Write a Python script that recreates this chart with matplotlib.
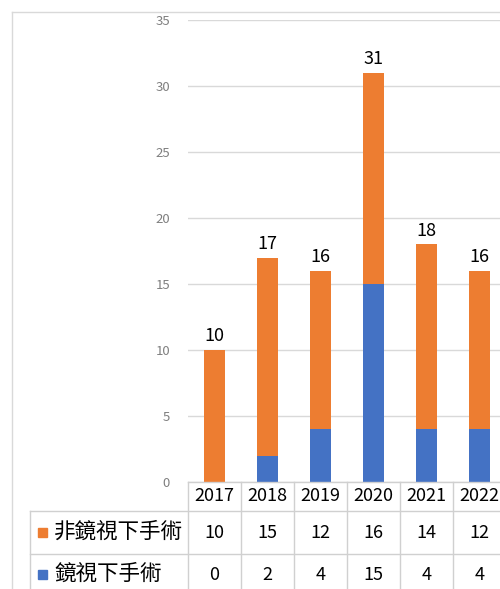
import matplotlib
matplotlib.use('Agg')
import matplotlib.pyplot as plt
from matplotlib.lines import Line2D
from matplotlib.patches import Rectangle
import matplotlib.transforms as mtransforms

plt.rcParams['font.family'] = ['Noto Sans CJK TC', 'DejaVu Sans']

# データ
years = ['2017', '2018', '2019', '2020', '2021', '2022']
non_scope = [10, 15, 12, 16, 14, 12]   # 非鏡視下手術
scope = [0, 2, 4, 15, 4, 4]            # 鏡視下手術
series_names = ['非鏡視下手術', '鏡視下手術']
totals = [a + b for a, b in zip(non_scope, scope)]

c_orange = '#ED7D31'
c_blue = '#4472C4'
c_grid = '#d9d9d9'
c_table = '#d0d0d0'

W, H = 500, 589
fig = plt.figure(figsize=(W / 100, H / 100), dpi=100)

def fx(x):
    return x / W

def fy(y):
    return 1 - y / H

col_w = 53
ax_left = 188
n_vis = (W - ax_left) / col_w
ax = fig.add_axes([fx(ax_left), fy(482), 1 - fx(ax_left), fy(20) - fy(482)])

x = list(range(len(years)))
ax.bar(x, scope, width=0.4, color=c_blue, zorder=3)
ax.bar(x, non_scope, width=0.4, bottom=scope, color=c_orange, zorder=3)

for i, t in enumerate(totals):
    ax.text(i, t + 0.35, str(t), ha='center', va='bottom', fontsize=13, color='black')

ax.set_xlim(-0.5, n_vis - 0.5)
ax.set_ylim(0, 35)
ax.set_yticks(range(0, 36, 5))
ax.yaxis.grid(True, color=c_grid, linewidth=1)
ax.set_axisbelow(True)
ax.tick_params(axis='y', length=0, labelsize=9.5, labelcolor='#7f7f7f', pad=13)
ax.set_xticks([])
for s in ax.spines.values():
    s.set_visible(False)

# chart area border
fig.add_artist(Line2D([fx(12), fx(12)], [fy(12), 0], transform=fig.transFigure, color=c_grid, lw=1))
fig.add_artist(Line2D([fx(12), 1], [fy(12), fy(12)], transform=fig.transFigure, color=c_grid, lw=1))

# データテーブル
tr = mtransforms.blended_transform_factory(ax.transData, fig.transFigure)
row_y = [fy(482), fy(511), fy(554)]
fig.add_artist(Line2D([fx(ax_left), 1], [row_y[0], row_y[0]], transform=fig.transFigure, color=c_table, lw=1))
for ry in row_y[1:]:
    fig.add_artist(Line2D([fx(30), 1], [ry, ry], transform=fig.transFigure, color=c_table, lw=1))
fig.add_artist(Line2D([fx(30), fx(30)], [row_y[1], 0], transform=fig.transFigure, color=c_table, lw=1))
for i in range(len(years) + 1):
    ax.add_line(Line2D([i - 0.5, i - 0.5], [row_y[0], 0], transform=tr, color=c_table, lw=1, clip_on=False))

for i, yr in enumerate(years):
    ax.text(i, fy(496), yr, transform=tr, ha='center', va='center', fontsize=13, clip_on=False)
    ax.text(i, fy(533), str(non_scope[i]), transform=tr, ha='center', va='center', fontsize=13, clip_on=False)
    ax.text(i, fy(575), str(scope[i]), transform=tr, ha='center', va='center', fontsize=13, clip_on=False)

for name, color, yc in [(series_names[0], c_orange, 532), (series_names[1], c_blue, 574)]:
    fig.add_artist(Rectangle((fx(38), fy(yc + 4.5)), fx(9), 9 / H, transform=fig.transFigure, color=color))
    fig.text(fx(54), fy(yc), name, ha='left', va='center', fontsize=15.5)

fig.savefig('out.png', dpi=100)
